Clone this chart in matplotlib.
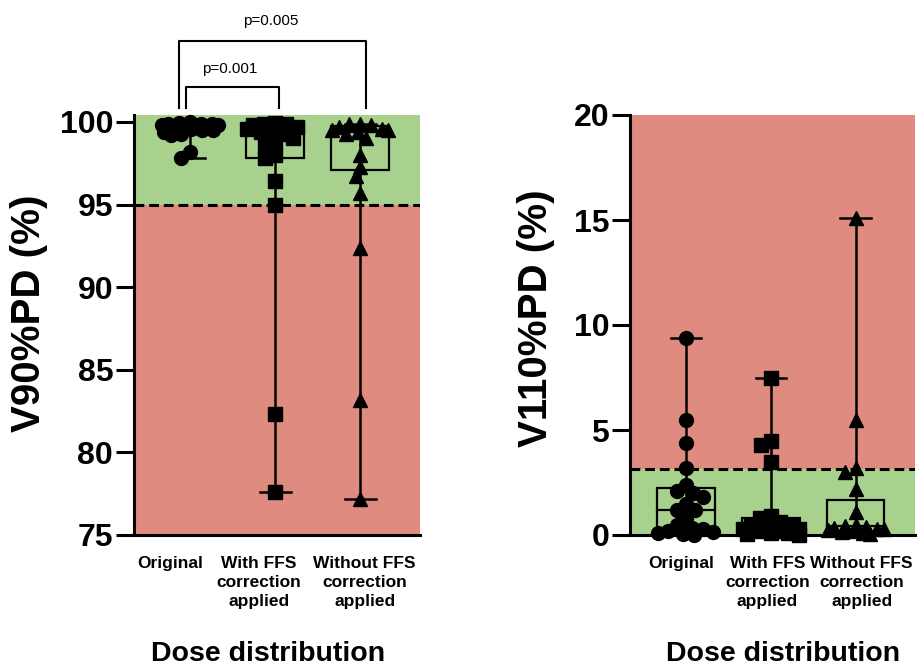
import math
import matplotlib
matplotlib.use("Agg")
import matplotlib.pyplot as plt
from matplotlib.patches import Rectangle

plt.rcParams["font.family"] = ["Liberation Sans", "DejaVu Sans"]

# ── data ──────────────────────────────────────────────────────
categories = ["Original", "With FFS\ncorrection\napplied", "Without FFS\ncorrection\napplied"]
markers = ["o", "s", "^"]

v90_orig = [100.0, 99.95, 99.9, 99.9, 99.85, 99.8, 99.8, 99.75, 99.7, 99.7,
            99.6, 99.6, 99.5, 99.5, 99.4, 99.3, 99.2, 98.2, 97.8]
v90_ffs = [99.95, 99.9, 99.9, 99.8, 99.7, 99.6, 99.5, 99.4, 99.3, 99.0,
           98.8, 98.5, 98.0, 97.8, 96.4, 95.0, 82.3, 77.6]
v90_noffs = [99.9, 99.85, 99.8, 99.7, 99.6, 99.5, 99.5, 99.4, 99.3, 99.0,
             98.0, 97.3, 96.7, 95.7, 92.4, 83.2, 77.2]
# (q1, median, q3)
v90_box = [(99.5, 99.75, 99.95), (97.8, 99.4, 99.95), (97.1, 99.4, 99.75)]
v90_threshold = 95.0

v110_orig = [9.4, 5.5, 4.4, 3.2, 2.4, 2.1, 2.0, 1.8, 1.5, 1.2,
             1.2, 0.8, 0.5, 0.35, 0.3, 0.2, 0.15, 0.1, 0.05, 0.0]
v110_ffs = [7.5, 4.5, 4.3, 3.5, 0.9, 0.8, 0.6, 0.5, 0.5, 0.4,
            0.3, 0.3, 0.2, 0.2, 0.1, 0.1, 0.05, 0.0]
v110_noffs = [15.1, 5.5, 3.2, 3.0, 2.2, 1.1, 0.5, 0.45, 0.4, 0.35,
              0.3, 0.3, 0.25, 0.2, 0.15, 0.1, 0.05]
v110_box = [(0.02, 1.2, 2.25), (0.0, 0.55, 0.8), (0.0, 0.42, 1.65)]
v110_threshold = 3.15

pvals = ["p=0.001", "p=0.005"]

GREEN = "#A8D18D"
RED = "#E08B80"
FIG_W, FIG_H = 920, 669


def swarm_offsets(ax, vals, diam_px, max_px):
    """Simple beeswarm: place each point as close to the centre as possible."""
    bb = ax.get_position()
    x0, x1 = ax.get_xlim()
    y0, y1 = ax.get_ylim()
    sx = bb.width * FIG_W / (x1 - x0)
    sy = bb.height * FIG_H / (y1 - y0)
    placed, offs = [], []
    for v in vals:
        y = v * sy
        cands = [0.0]
        for px, py in placed:
            dy = abs(py - y)
            if dy < diam_px:
                dx = math.sqrt(diam_px ** 2 - dy ** 2)
                cands += [px - dx, px + dx]
        cands = [c for c in cands if abs(c) <= max_px]
        cands.sort(key=abs)
        chosen = None
        for c in cands:
            if all((c - px) ** 2 + (y - py) ** 2 >= diam_px ** 2 - 1e-6 for px, py in placed):
                chosen = c
                break
        if chosen is None:
            best = None
            for c in [-max_px, -max_px / 2, 0.0, max_px / 2, max_px] + cands:
                dmin = min(((c - px) ** 2 + (y - py) ** 2) for px, py in placed)
                if best is None or dmin > best[0]:
                    best = (dmin, c)
            chosen = best[1]
        placed.append((chosen, y))
        offs.append(chosen / sx)
    return offs


def draw_panel(ax, groups, boxes, threshold, ylim, green_below, yticks, ylabel, label_pos):
    ax.set_xlim(-0.66, 2.7)
    ax.set_ylim(*ylim)
    if green_below:
        ax.axhspan(ylim[0], threshold, color=GREEN, zorder=0, lw=0)
        ax.axhspan(threshold, ylim[1], color=RED, zorder=0, lw=0)
    else:
        ax.axhspan(threshold, ylim[1], color=GREEN, zorder=0, lw=0)
        ax.axhspan(ylim[0], threshold, color=RED, zorder=0, lw=0)
    ax.axhline(threshold, color="black", lw=2.2, dashes=(3.2, 1.6), zorder=1)

    for i, (vals, (q1, med, q3), mk) in enumerate(zip(groups, boxes, markers)):
        lo, hi = min(vals), max(vals)
        ax.add_patch(Rectangle((i - 0.34, q1), 0.68, q3 - q1, fill=False,
                               edgecolor="black", lw=1.6, zorder=2))
        ax.plot([i - 0.34, i + 0.34], [med, med], color="black", lw=1.6, zorder=2)
        ax.plot([i, i], [lo, hi], color="black", lw=1.8, zorder=2)
        ax.plot([i - 0.18, i + 0.18], [lo, lo], color="black", lw=1.8, zorder=2)
        ax.plot([i - 0.18, i + 0.18], [hi, hi], color="black", lw=1.8, zorder=2)
        offs = swarm_offsets(ax, vals, 11.0, 28.0)
        ms = 9.5 if mk == "^" else 10
        ax.plot([i + o for o in offs], vals, linestyle="none", marker=mk,
                markersize=ms, color="black", zorder=3, clip_on=False)

    for s in ["top", "right"]:
        ax.spines[s].set_visible(False)
    for s in ["left", "bottom"]:
        ax.spines[s].set_linewidth(2.2)
    ax.set_yticks(yticks)
    ax.set_yticklabels([str(t) for t in yticks], fontsize=23, fontweight="bold")
    ax.tick_params(axis="y", length=13, width=2.2, pad=2)
    # category labels sit slightly apart from the data columns, as in the original
    ax.set_xticks(label_pos)
    ax.set_xticklabels(categories, fontsize=12.5, fontweight="bold", linespacing=1.35)
    ax.tick_params(axis="x", length=0, pad=15)
    ax.set_ylabel(ylabel, fontsize=29, fontweight="bold")
    ax.set_xlabel("Dose distribution", fontsize=20.5, fontweight="bold")


fig = plt.figure(figsize=(FIG_W / 100, FIG_H / 100), dpi=100)
ax1 = fig.add_axes([134 / FIG_W, 1 - 535 / FIG_H, 286 / FIG_W, 420 / FIG_H])
ax2 = fig.add_axes([630 / FIG_W, 1 - 535 / FIG_H, 285 / FIG_W, 420 / FIG_H])

draw_panel(ax1, [v90_orig, v90_ffs, v90_noffs], v90_box, v90_threshold,
           (75, 100.42), False, [75, 80, 85, 90, 95, 100], "V90%PD (%)",
           [-0.235, 0.81, 2.05])
draw_panel(ax2, [v110_orig, v110_ffs, v110_noffs], v110_box, v110_threshold,
           (0, 20), True, [0, 5, 10, 15, 20], "V110%PD (%)",
           [-0.06, 0.96, 2.07])

ax1.yaxis.set_label_coords(-0.30, 0.529)
ax2.yaxis.set_label_coords(-0.263, 0.517)
ax1.xaxis.set_label_coords(0.469, -0.252)
ax2.xaxis.set_label_coords(0.537, -0.252)

# significance brackets
bkw = dict(color="black", lw=1.5, clip_on=False)
ax1.plot([-0.05, -0.05, 1.04, 1.04], [100.85, 102.1, 102.1, 100.85], **bkw)
ax1.plot([-0.13, -0.13, 2.06, 2.06], [100.85, 104.9, 104.9, 100.85], **bkw)
ax1.text(0.47, 103.2, pvals[0], ha="center", va="center", fontsize=11, clip_on=False)
ax1.text(0.95, 106.1, pvals[1], ha="center", va="center", fontsize=11, clip_on=False)

fig.savefig("out.png", dpi=100)
